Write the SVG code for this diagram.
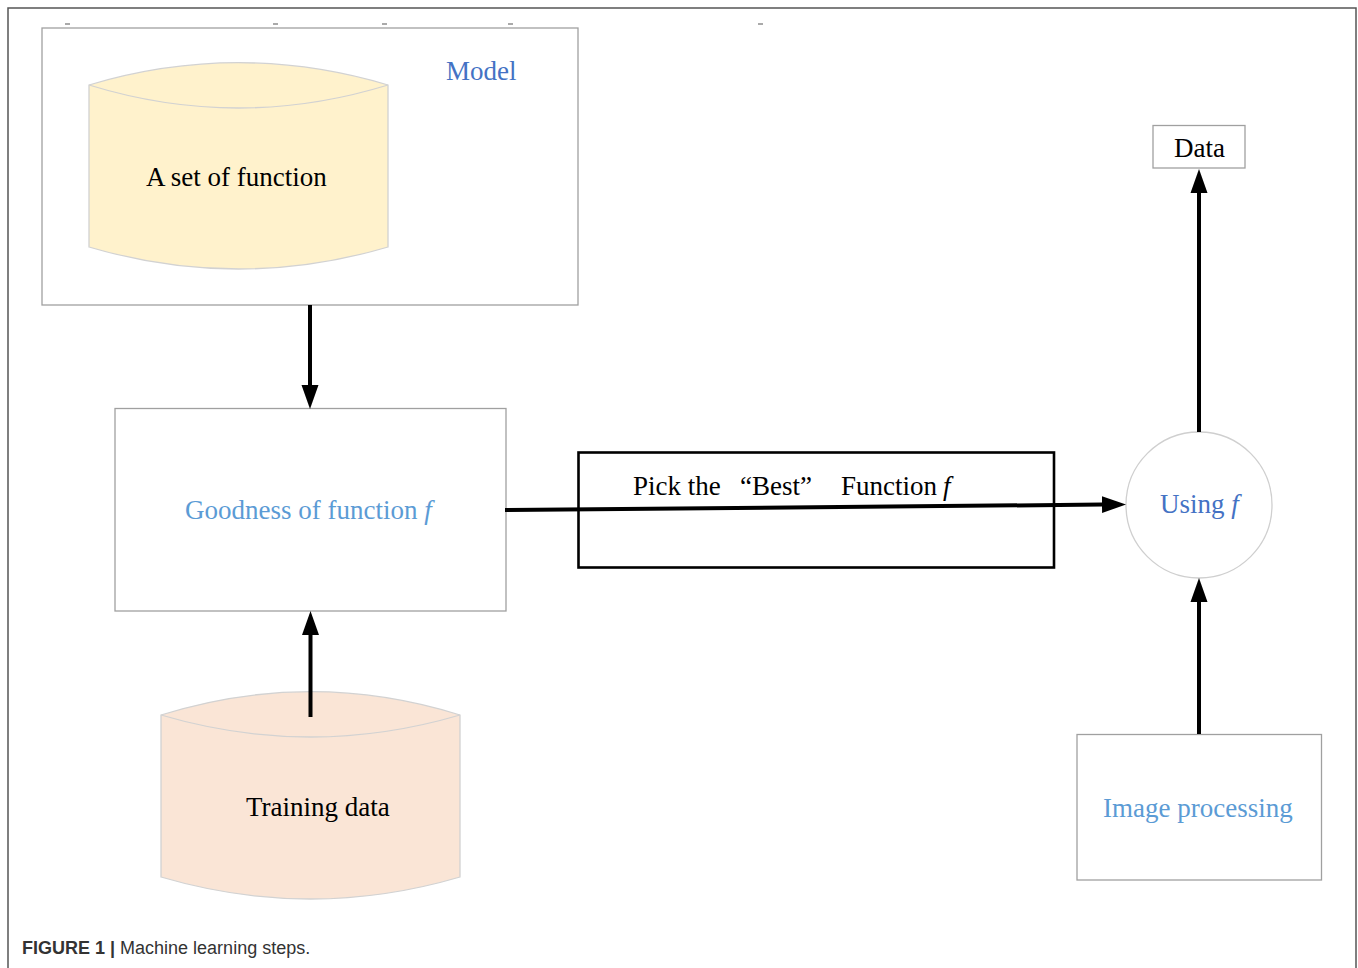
<svg xmlns="http://www.w3.org/2000/svg" width="1358" height="968" viewBox="0 0 1358 968">
<style>
.serif{font-family:"Liberation Serif","Times New Roman",serif;font-size:27px}
.box{fill:#ffffff;stroke:#a0a0a0;stroke-width:1.3}
.cyl{stroke:#d2d2d2;stroke-width:1.3}
.conn{stroke:#000;stroke-width:4;fill:none;marker-end:url(#ah)}
.blue1{fill:#4472c4}
.blue2{fill:#5b9bd5}
</style>
<defs>
<marker id="ah" markerUnits="userSpaceOnUse" markerWidth="24" markerHeight="18" viewBox="0 0 24 18" refX="0" refY="9" orient="auto">
<path d="M0,0.5 L24,9 L0,17.5 z" fill="#000"/>
</marker>
</defs>
<rect x="0" y="0" width="1358" height="968" fill="#fff"/>
<rect id="frame" x="8" y="8" width="1348" height="975" fill="none" stroke="#555" stroke-width="1.5"/>
<g id="ticks" fill="#aaa">
<rect x="65" y="23" width="5" height="2"/>
<rect x="273" y="23" width="5" height="2"/>
<rect x="382" y="23" width="5" height="2"/>
<rect x="508" y="23" width="5" height="2"/>
<rect x="758" y="23" width="5" height="2"/>
</g>
<g id="model">
<rect class="box" x="42" y="28" width="536" height="277"/>
<text class="serif blue1" x="446" y="80" font-size="28">Model</text>
</g>
<g id="set-of-function">
<path class="cyl" fill="#fff2cc" d="M89,85 Q238.5,40.4 388,85 L388,247 Q238.5,291 89,247 Z"/>
<path class="cyl" fill="none" d="M89,85 Q238.5,131 388,85"/>
<text class="serif" x="146" y="186" fill="#000" font-size="27.8">A set of function</text>
</g>
<g id="goodness">
<rect class="box" x="115" y="408.5" width="391" height="202.5"/>
<text class="serif blue2" x="185" y="519" font-size="28.8">Goodness of function <tspan font-style="italic">f</tspan></text>
</g>
<g id="training-data">
<path class="cyl" fill="#fae5d6" d="M161,715 Q310.5,668.4 460,715 L460,877 Q310.5,921 161,877 Z"/>
<path class="cyl" fill="none" d="M161,715 Q310.5,759 460,715"/>
<text class="serif" x="246" y="816" fill="#000">Training data</text>
</g>
<g id="pick-best">
<rect x="578.5" y="452.5" width="475.5" height="115" fill="none" stroke="#000" stroke-width="2.6"/>
<text class="serif" y="495" fill="#000"><tspan x="633">Pick the</tspan><tspan x="740">“Best”</tspan><tspan x="841">Function</tspan><tspan x="943" font-style="italic">f</tspan></text>
</g>
<g id="using-f">
<circle cx="1199" cy="505" r="73" fill="#fff" stroke="#cfcfcf" stroke-width="1.3"/>
<text class="serif blue1" x="1160" y="513" font-size="28.5">Using <tspan font-style="italic">f</tspan></text>
</g>
<g id="data">
<rect class="box" x="1153" y="125.5" width="92" height="42.5"/>
<text class="serif" x="1174" y="157" fill="#000">Data</text>
</g>
<g id="image-processing">
<rect class="box" x="1077" y="734.5" width="244.5" height="145.5"/>
<text class="serif blue2" x="1103" y="817" font-size="27.6">Image processing</text>
</g>
<g id="connectors">
<path class="conn" d="M310,305 L310,385"/>
<path class="conn" d="M310.5,717 L310.5,635"/>
<path class="conn" d="M505,510 L1102,504.6"/>
<path class="conn" d="M1199,734 L1199,602"/>
<path class="conn" d="M1199,432 L1199,193"/>
</g>
<text id="caption" x="22" y="954" font-family="Liberation Sans, Arial, sans-serif" font-size="18" fill="#333"><tspan font-weight="bold">FIGURE 1 |</tspan> Machine learning steps.</text>
</svg>
